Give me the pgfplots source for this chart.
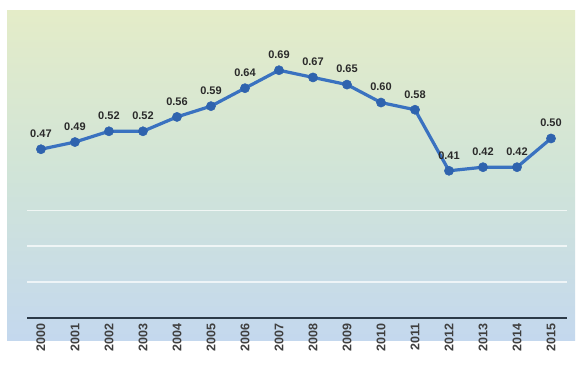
\documentclass[border=0pt]{standalone}
\usepackage{pgfplots}
\pgfplotsset{compat=1.18}
\usepackage{pgfplotstable}
\usepackage{fontspec}
\setmainfont{Liberation Sans}
\definecolor{bgtop}{HTML}{E4ECC8}
\definecolor{bgmid}{HTML}{D0E4D8}
\definecolor{bgbot}{HTML}{C4D8EE}
\definecolor{lineblue}{HTML}{3A72C0}
\definecolor{markblue}{HTML}{2F63AE}
\definecolor{axisdark}{HTML}{2C3A48}
\definecolor{labgray}{HTML}{2A2A2A}
\pgfplotstableread{
x y lab
0 0.47 0.47
1 0.49 0.49
2 0.52 0.52
3 0.52 0.52
4 0.56 0.56
5 0.59 0.59
6 0.64 0.64
7 0.69 0.69
8 0.67 0.67
9 0.65 0.65
10 0.60 0.60
11 0.58 0.58
12 0.41 0.41
13 0.42 0.42
14 0.42 0.42
15 0.50 0.50
}\datatable
\begin{document}
\begin{tikzpicture}[x=1pt,y=1pt]
\path[fill=white] (0,0) rectangle (580,364);
\shade[top color=bgtop, bottom color=bgbot, middle color=bgmid] (7,24) rectangle (575,353);
\begin{axis}[
  at={(27pt,46pt)}, anchor=south west,
  scale only axis, width=540pt, height=307pt,
  xmin=-0.41, xmax=15.47, ymin=0, ymax=0.855,
  axis line style={draw=none},
  xtick={0,...,15},
  xticklabels={2000,2001,2002,2003,2004,2005,2006,2007,2008,2009,2010,2011,2012,2013,2014,2015},
  x tick label style={rotate=90, anchor=east, font=\fontsize{12.5}{12.5}\selectfont\bfseries, text=labgray!90, xshift=-2pt},
  ytick={0.1,0.2,0.3},
  yticklabels={},
  major tick length=0pt,
  ymajorgrids,
  grid style={white, line width=1.5pt, opacity=0.7},
  clip=false,
]
\draw[axisdark, line width=1.6pt] (rel axis cs:0,0) -- (rel axis cs:1,0);
\addplot[lineblue, line width=3.2pt, mark=*, mark size=4.6pt,
  mark options={fill=markblue, draw=markblue, line width=0.5pt},
  nodes near coords, point meta=explicit symbolic,
  every node near coord/.append style={font=\fontsize{11}{11}\selectfont\bfseries, text=labgray, yshift=8pt}]
  table[x=x, y=y, meta=lab] {\datatable};
\end{axis}
\end{tikzpicture}
\end{document}
